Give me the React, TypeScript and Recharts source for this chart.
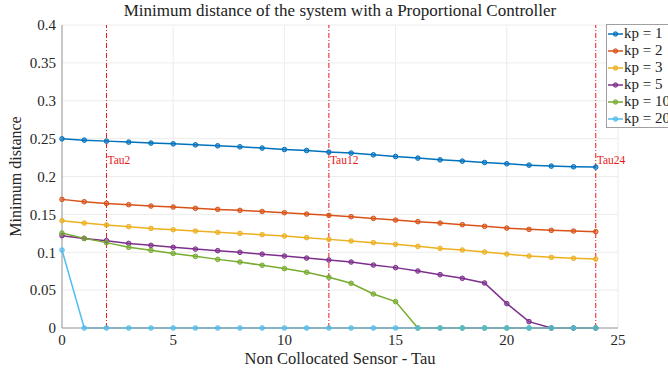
import React from "react";
import {
  LineChart,
  Line,
  XAxis,
  YAxis,
  CartesianGrid,
  ReferenceLine,
  Legend,
} from "recharts";

const tau = [0, 1, 2, 3, 4, 5, 6, 7, 8, 9, 10, 11, 12, 13, 14, 15, 16, 17, 18, 19, 20, 21, 22, 23, 24];

const kp1 = [0.2497, 0.248, 0.2467, 0.2454, 0.2441, 0.2431, 0.2418, 0.2405, 0.2392, 0.2375, 0.2356, 0.2343, 0.2322, 0.2309, 0.2286, 0.2264, 0.2243, 0.222, 0.2203, 0.2185, 0.2168, 0.215, 0.2137, 0.2128, 0.2124];
const kp2 = [0.1698, 0.1667, 0.1645, 0.1628, 0.161, 0.1597, 0.158, 0.1566, 0.1553, 0.1538, 0.1522, 0.1504, 0.1487, 0.147, 0.1447, 0.1425, 0.1404, 0.1385, 0.1364, 0.1342, 0.1319, 0.1302, 0.1289, 0.128, 0.1272];
const kp3 = [0.1417, 0.1385, 0.1359, 0.1338, 0.1315, 0.1298, 0.128, 0.1263, 0.1249, 0.1232, 0.1214, 0.1193, 0.117, 0.1148, 0.1127, 0.1104, 0.1078, 0.1051, 0.1029, 0.1003, 0.0976, 0.095, 0.0933, 0.092, 0.091];
const kp5 = [0.1219, 0.1183, 0.1153, 0.1117, 0.1091, 0.1065, 0.1042, 0.1021, 0.0999, 0.0975, 0.095, 0.0923, 0.0897, 0.0871, 0.0831, 0.0797, 0.0752, 0.0704, 0.0656, 0.0594, 0.0322, 0.0084, 0, 0, 0];
const kp10 = [0.1253, 0.1183, 0.1127, 0.1065, 0.1025, 0.0985, 0.0946, 0.0906, 0.0871, 0.0828, 0.0784, 0.0735, 0.0669, 0.059, 0.0449, 0.0348, 0, 0, 0, 0, 0, 0, 0, 0, 0];
const kp20 = [0.1029, 0, 0, 0, 0, 0, 0, 0, 0, 0, 0, 0, 0, 0, 0, 0, 0, 0, 0, 0, 0, 0, 0, 0, 0];

const seriesNames = ["kp = 1", "kp = 2", "kp = 3", "kp = 5", "kp = 10", "kp = 20"];
const seriesKeys = ["kp1", "kp2", "kp3", "kp5", "kp10", "kp20"];
const seriesColors = ["#0072BD", "#D95319", "#EDB120", "#7E2F8E", "#77AC30", "#4DBEEE"];

const xTicks = [0, 5, 10, 15, 20, 25];
const yTicks = [0, 0.05, 0.1, 0.15, 0.2, 0.25, 0.3, 0.35, 0.4];
const tauMarks = [2, 12, 24];

const data = tau.map((t, i) => ({
  tau: t,
  kp1: kp1[i],
  kp2: kp2[i],
  kp3: kp3[i],
  kp5: kp5[i],
  kp10: kp10[i],
  kp20: kp20[i],
}));

const FONT = "'Liberation Serif', 'DejaVu Serif', serif";

function LegendBox() {
  return (
    <div
      style={{
        border: "1px solid #a0a0a0",
        background: "#fff",
        padding: "0 0 0 1px",
        fontFamily: FONT,
        fontSize: 15,
        color: "#222",
        width: 90,
        boxSizing: "border-box",
      }}
    >
      {seriesNames.map((n, i) => (
        <div key={n} style={{ display: "flex", alignItems: "center", height: 17 }}>
          <svg width={15} height={10} style={{ marginRight: 1 }}>
            <line x1={0} y1={5} x2={15} y2={5} stroke={seriesColors[i]} strokeWidth={1.5} />
            <circle cx={7.5} cy={5} r={2.2} fill={seriesColors[i]} fillOpacity={0.6} stroke={seriesColors[i]} />
          </svg>
          <span style={{ whiteSpace: "nowrap" }}>{n}</span>
        </div>
      ))}
    </div>
  );
}

export default function App() {
  return (
    <div
      style={{
        position: "absolute",
        left: 0,
        top: 0,
        width: 668,
        height: 373,
        overflow: "hidden",
        background: "#fff",
      }}
    >
      <div
        style={{
          position: "absolute",
          top: 1,
          left: 62,
          width: 556,
          textAlign: "center",
          fontFamily: FONT,
          fontSize: 17,
          color: "#222",
          whiteSpace: "nowrap",
        }}
      >
        Minimum distance of the system with a Proportional Controller
      </div>
      <LineChart
        width={668}
        height={373}
        data={data}
        margin={{ top: 25, right: 50, bottom: 8, left: 0 }}
        style={{ fontFamily: FONT }}
      >
        <CartesianGrid stroke="#ececec" strokeWidth={1} />
        <XAxis
          dataKey="tau"
          type="number"
          domain={[0, 25]}
          ticks={xTicks}
          height={37}
          tickSize={0}
          tickMargin={6}
          stroke="#9a9a9a"
          tick={{ fill: "#262626", fontSize: 15 }}
          label={{
            value: "Non Collocated Sensor - Tau",
            position: "insideBottom",
            offset: 1,
            style: { fill: "#262626", fontSize: 16.5 },
          }}
        />
        <YAxis
          type="number"
          domain={[0, 0.4]}
          ticks={yTicks}
          width={62}
          tickSize={0}
          tickMargin={6}
          stroke="#9a9a9a"
          tick={{ fill: "#262626", fontSize: 15 }}
          label={{
            value: "Minimum distance",
            angle: -90,
            position: "insideLeft",
            offset: 15,
            style: { fill: "#262626", fontSize: 16, textAnchor: "middle" },
          }}
        />
        {tauMarks.map((t) => (
          <ReferenceLine
            key={t}
            x={t}
            stroke="#E8191B"
            strokeWidth={1}
            strokeDasharray="5 2 1 2"
            label={(props: any) => (
              <text
                x={props.viewBox.x + 1}
                y={props.viewBox.y + 139}
                fill="#E8191B"
                fontSize={11.5}
                fontFamily={FONT}
              >
                {"Tau" + t}
              </text>
            )}
          />
        ))}
        {seriesKeys.map((k, i) => (
          <Line
            key={k}
            dataKey={k}
            name={seriesNames[i]}
            type="linear"
            stroke={seriesColors[i]}
            strokeWidth={1.5}
            dot={{ r: 2.3, fill: seriesColors[i], fillOpacity: 0.6, stroke: seriesColors[i], strokeWidth: 1 }}
            isAnimationActive={false}
          />
        ))}
        <Legend
          layout="vertical"
          align="center"
          verticalAlign="middle"
          wrapperStyle={{ left: 606, top: 24, width: 90 }}
          content={() => <LegendBox />}
        />
      </LineChart>
    </div>
  );
}
